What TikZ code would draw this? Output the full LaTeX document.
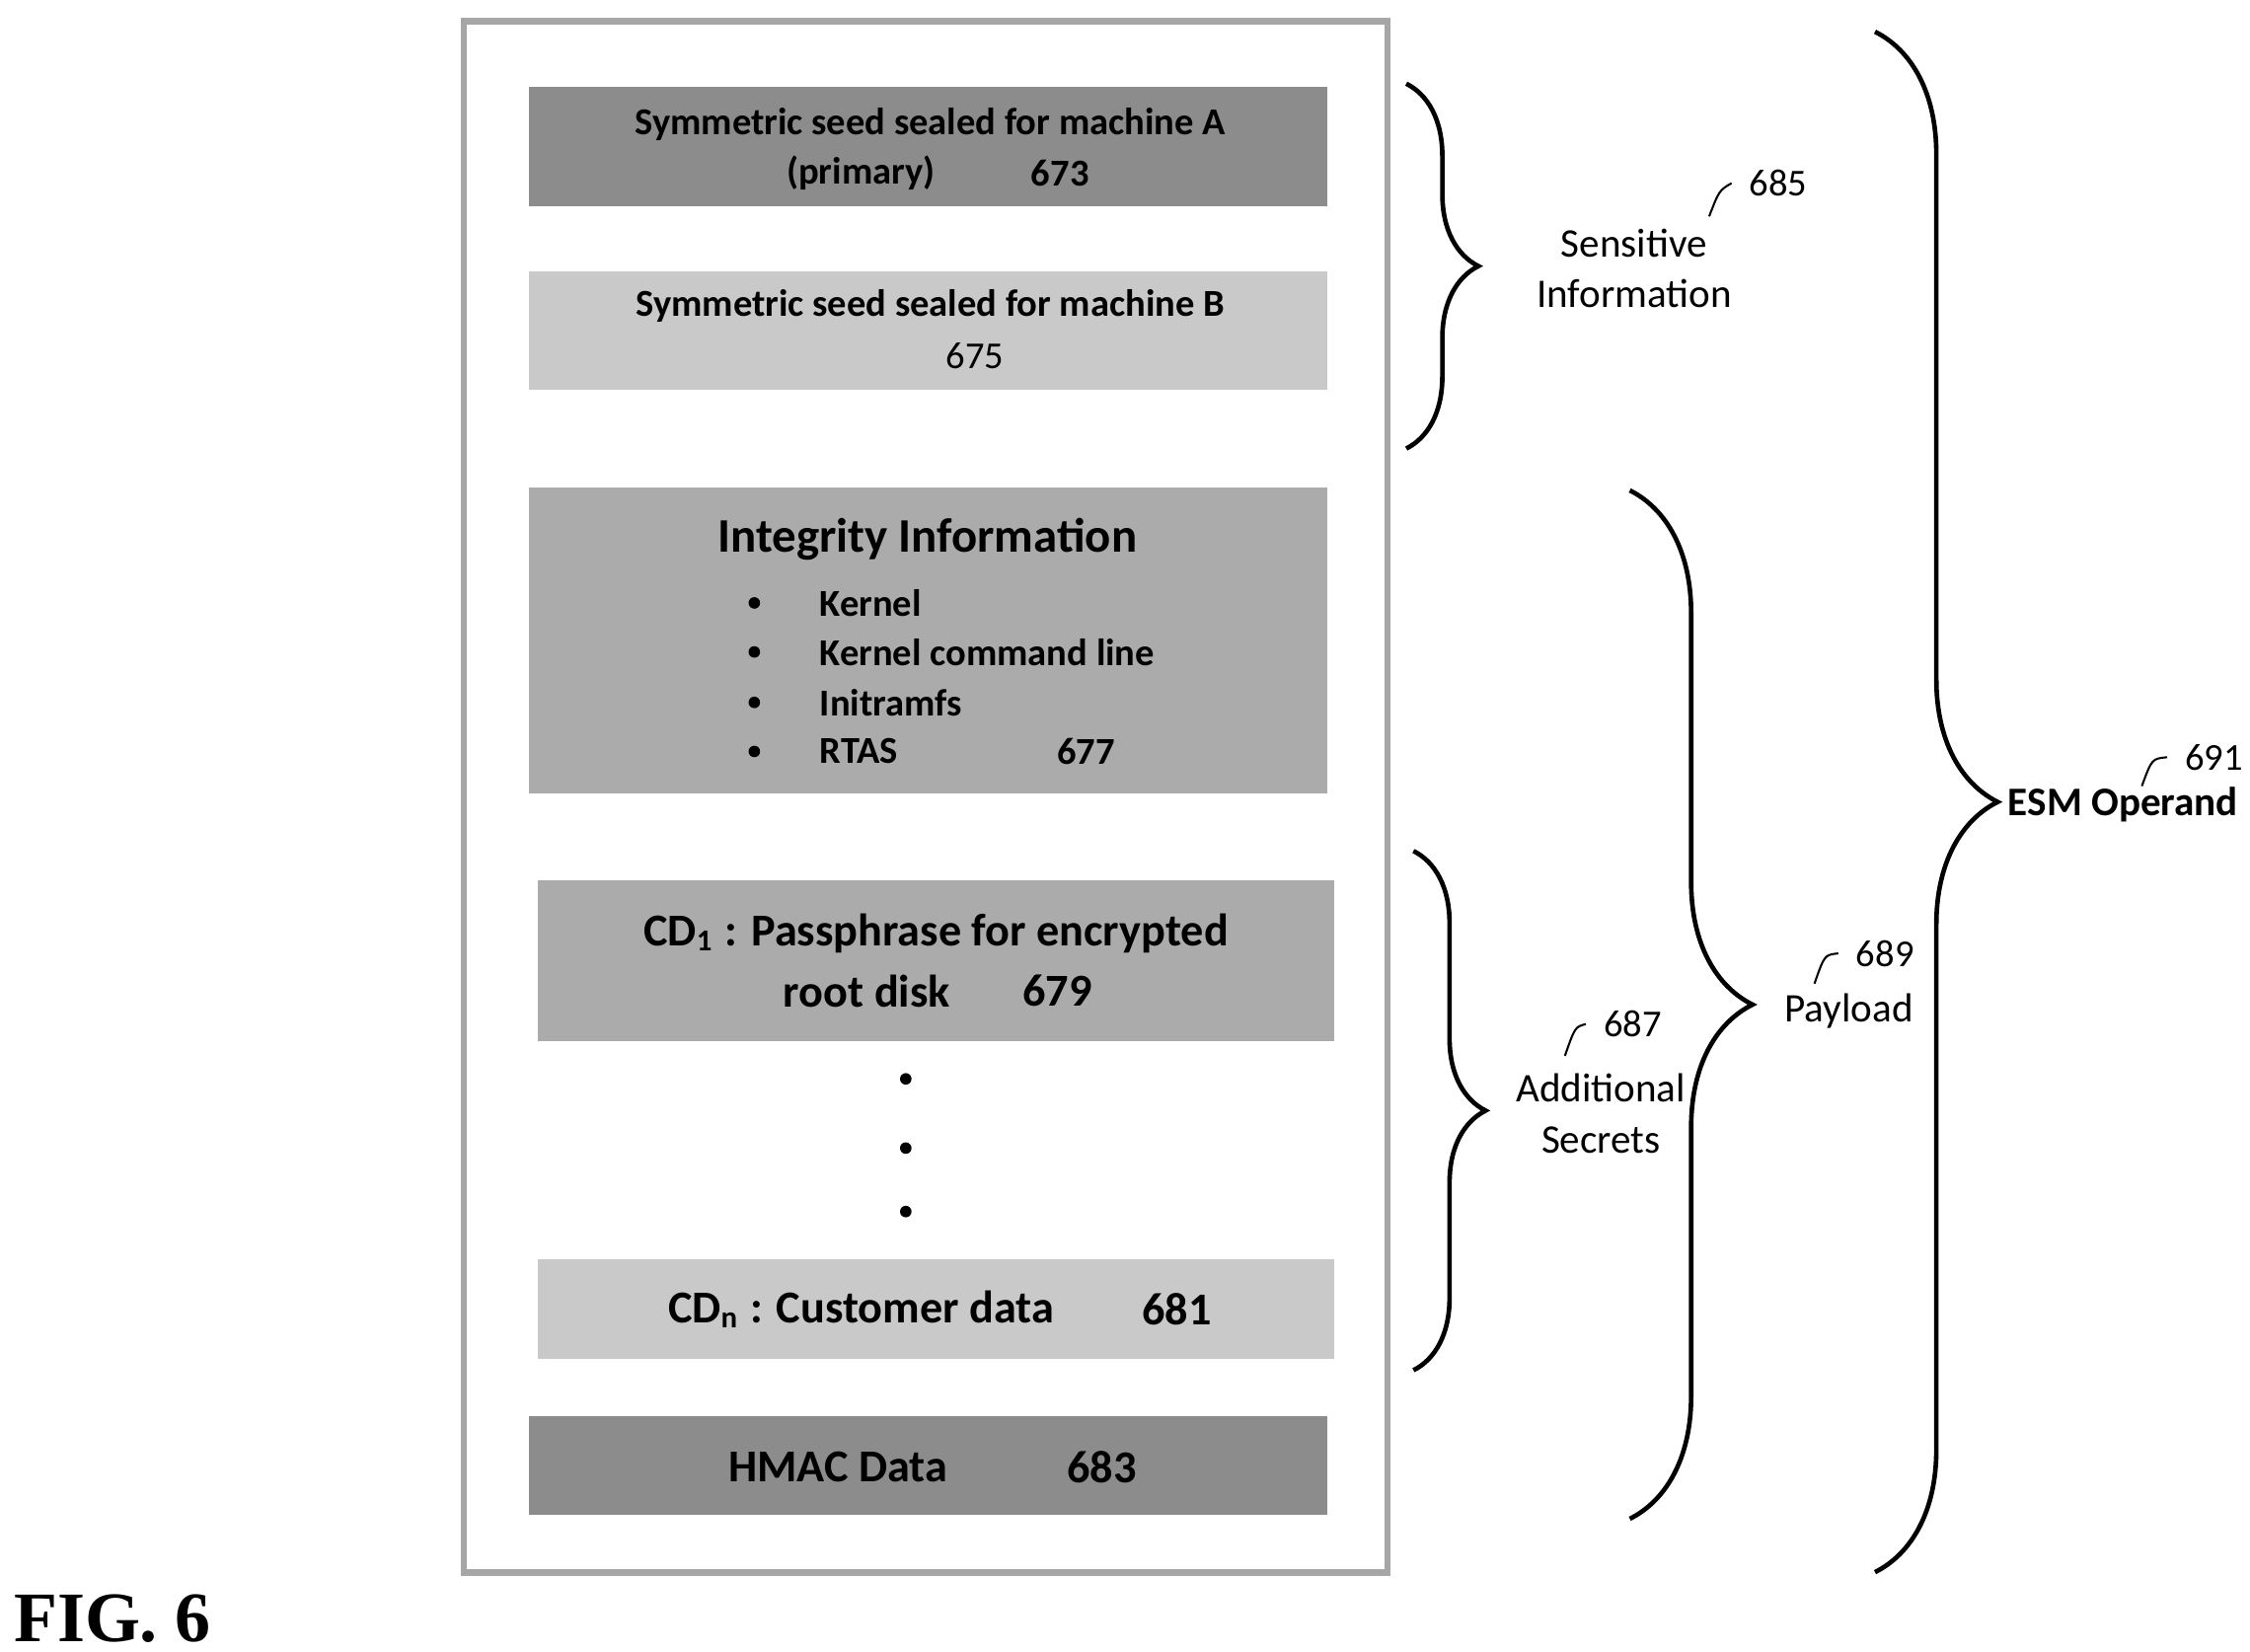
\documentclass[tikz,border=0pt]{standalone}
\usepackage{fontspec}
\setmainfont{Carlito}
\newfontfamily\figfont{Liberation Serif}
\usetikzlibrary{decorations.pathreplacing}
\definecolor{dk}{HTML}{8C8C8C}
\definecolor{md}{HTML}{ABABAB}
\definecolor{lt}{HTML}{C9C9C9}
\begin{document}
\begin{tikzpicture}[x=0.01cm,y=-0.01cm,
  box/.style={draw=none,inner sep=0},
  br/.style={decorate,decoration={brace,amplitude=0.5cm,raise=0pt},line width=0.9pt},
  lbl/.style={font=\fontsize{8}{10}\selectfont,align=center},
  num/.style={font=\fontsize{7.5}{9}\selectfont},
  bt/.style={font=\bfseries\fontsize{7.5}{9}\selectfont},
  bb/.style={font=\bfseries\fontsize{9}{11}\selectfont}]
\useasboundingbox (0,0) rectangle (1560,1145);
\node[draw=black!35,line width=1.2pt,minimum width=6.4cm,minimum height=10.75cm,inner sep=0] (frame) at (642,552.5) {};
\fill[dk] (367,60) rectangle (920,143);
\node (b673) at (643,101) {};
\node[bt] at (645,86) {Symmetric seed sealed for machine A};
\node[bt,anchor=west] at (533,120) {(primary)};
\node[bt] at (735,120) {673};
\fill[lt] (367,188) rectangle (920,270);
\node (b675) at (643,229) {};
\node[bt] at (645,212) {Symmetric seed sealed for machine B};
\node[num] at (676,247) {675};
\fill[md] (367,338) rectangle (920,550);
\node (b677) at (643,444) {};
\node[font=\bfseries\fontsize{9.5}{11}\selectfont] at (643,374) {Integrity Information};
\foreach \y/\t in {418/Kernel,452/Kernel command line,487/Initramfs,521/RTAS}{
  \fill (523,\y) circle (4);
  \node[bt,anchor=west] at (556,\y) {\t};}
\node[bt] at (753,521) {677};
\fill[md] (373,610) rectangle (925,722);
\node (b679) at (649,666) {};
\node[bb] at (649,647) {CD\textsubscript{1} : Passphrase for encrypted};
\node[bb] at (601,687) {root disk};
\node[bb] at (733,687) {679};
\foreach \y in {748,796,840} \fill (628,\y) circle (4);
\fill[lt] (373,873) rectangle (925,942);
\node (b681) at (649,907) {};
\node[bb] at (597,908) {CD\textsubscript{n} : Customer data};
\node[bb] at (816,908) {681};
\fill[dk] (367,982) rectangle (920,1050);
\node (b683) at (643,1016) {};
\node[bb] at (581,1017) {HMAC Data};
\node[bb] at (764,1017) {683};
% braces
\coordinate (s1) at (975,58); \coordinate (e1) at (975,311);
\draw[br] (s1) -- (e1);
\node[lbl] (si) at (1133,186) {Sensitive\\Information};
\node[num] (n685) at (1233,127) {685};
\draw (1185,150) .. controls (1192,132) .. (n685.west);
\coordinate (s2) at (980,590); \coordinate (e2) at (980,950);
\draw[br] (s2) -- (e2);
\node[lbl] (as) at (1110,772) {Additional\\Secrets};
\node[num] (n687) at (1132,710) {687};
\draw (1085,732) .. controls (1092,712) .. (n687.west);
\coordinate (s3) at (1130,340); \coordinate (e3) at (1130,1053);
\draw[br,decoration={brace,amplitude=0.85cm}] (s3) -- (e3);
\node[lbl] (pl) at (1282,701) {Payload};
\node[num] (n689) at (1307,661) {689};
\draw (1258,682) .. controls (1265,662) .. (n689.west);
\coordinate (s4) at (1300,22); \coordinate (e4) at (1300,1090);
\draw[br,decoration={brace,amplitude=0.85cm}] (s4) -- (e4);
\node[font=\bfseries\fontsize{8}{10}\selectfont] (esm) at (1472,558) {ESM Operand};
\node[num] (n691) at (1535,525) {691};
\draw (1485,545) .. controls (1492,526) .. (n691.west);
\node[font=\figfont\bfseries\fontsize{14}{16}\selectfont] (fig) at (78,1122) {FIG. 6};
\end{tikzpicture}
\end{document}
